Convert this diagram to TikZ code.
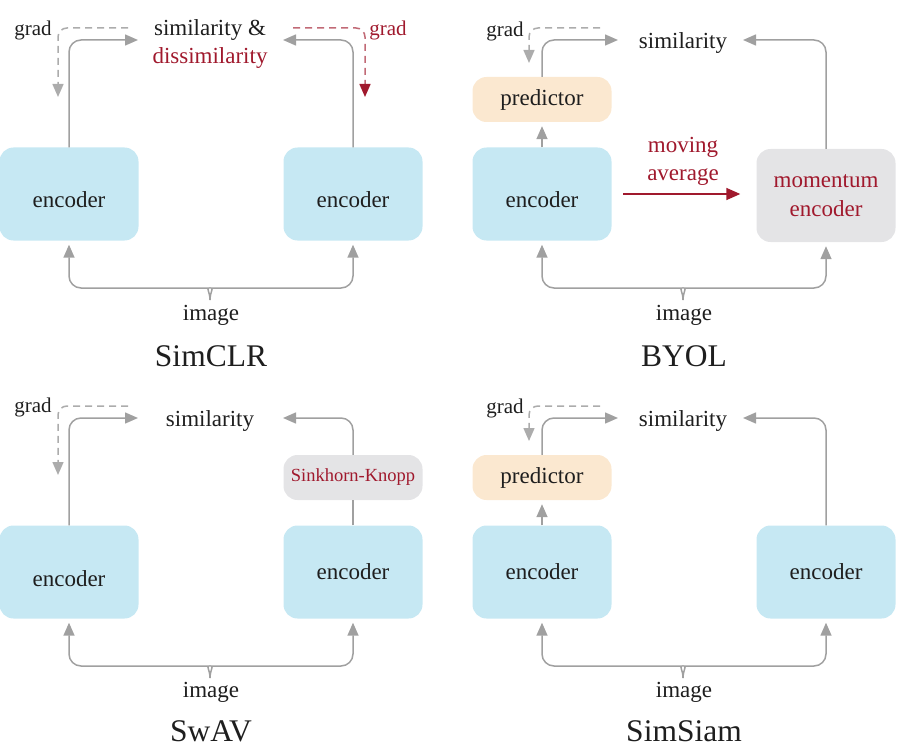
\documentclass[tikz,border=0pt]{standalone}
\usepackage{fontspec}
\setmainfont{Liberation Serif}
\usetikzlibrary{arrows.meta}

\definecolor{encblue}{RGB}{198,232,243}
\definecolor{predorange}{RGB}{251,232,208}
\definecolor{boxgray}{RGB}{228,228,230}
\definecolor{linegray}{RGB}{160,160,160}
\definecolor{dashgray}{RGB}{172,172,172}
\definecolor{redtxt}{RGB}{160,25,45}
\definecolor{ink}{RGB}{30,30,30}

\newcommand\lblfont{\fontsize{23}{28}\selectfont}
\newcommand\gradfont{\fontsize{21}{25}\selectfont}
\newcommand\skfont{\fontsize{18.5}{22}\selectfont}
\newcommand\titlefont{\fontsize{31.5}{36}\selectfont}

\tikzset{
  box/.style={rounded corners=14pt, minimum width=139pt, minimum height=93pt,
    inner sep=0pt, font=\lblfont, text=ink, align=center},
  encbox/.style={box, fill=encblue},
  lowtext/.style={text height=#1, text depth=0pt},
  mombox/.style={box, fill=boxgray, text=redtxt, font=\fontsize{23}{29.5}\selectfont},
  predbox/.style={box, fill=predorange, minimum height=45pt},
  skbox/.style={box, fill=boxgray, minimum height=45pt, font=\skfont, text=redtxt},
  lbl/.style={font=\lblfont, text=ink, inner sep=0pt, align=center},
  gradlbl/.style={font=\gradfont, text=ink, inner sep=0pt},
  titlelbl/.style={font=\titlefont, text=ink, inner sep=0pt},
  tip/.style={-{Triangle[length=13pt,width=11pt]}},
  flow/.style={tip, draw=linegray, line width=1.5pt, rounded corners=12pt},
  plain/.style={draw=linegray, line width=1.5pt},
  gradflow/.style={tip, draw=dashgray, line width=1.5pt, dash pattern=on 7pt off 5pt,
    rounded corners=9pt},
  gradred/.style={gradflow, draw=redtxt!65, -{Triangle[length=13pt,width=11pt,color=redtxt]}},
  redflow/.style={-{Triangle[length=14pt,width=12pt]}, draw=redtxt, line width=1.5pt},
}

\begin{document}
\begin{tikzpicture}[x=1pt,y=-1pt]
\useasboundingbox (0,0) rectangle (905,749);

% ---------------- SimCLR ----------------
\begin{scope}
  \node[encbox, lowtext=26pt] (ae1) at (69,194) {encoder};
  \node[encbox, lowtext=26pt] (ae2) at (353,194) {encoder};
  \node[lbl] (asim) at (210,44) {similarity \&\\\textcolor{redtxt}{dissimilarity}};
  \coordinate (at1) at (138,40);
  \coordinate (at2) at (283,40);
  \draw[flow] (ae1.north) |- (at1);
  \draw[flow] (ae2.north) |- (at2);
  % gradient paths
  \node[gradlbl] (ag1) at (33,30) {grad};
  \coordinate (ag1a) at (128,28);
  \coordinate (ag1b) at (58,97);
  \draw[gradflow] (ag1a) -| (ag1b);
  \node[gradlbl, text=redtxt] (ag2) at (388,30) {grad};
  \coordinate (ag2a) at (293,28);
  \coordinate (ag2b) at (365,97);
  \draw[gradred] (ag2a) -| (ag2b);
  % shared input
  \node[lbl] (aimg) at (211,315) {image};
  \coordinate (ab) at (210,300);
  \draw[flow, shorten >=4pt] (ab) .. controls (210,292) and (206,288) .. (197,288) -| (ae1.south);
  \draw[flow, shorten >=4pt] (ab) .. controls (210,292) and (214,288) .. (223,288) -| (ae2.south);
  \node[titlelbl] (atitle) at (211,356) {SimCLR};
\end{scope}

% ---------------- BYOL ----------------
\begin{scope}[shift={(473,0)}]
  \node[encbox, lowtext=26pt] (be1) at (69,194) {encoder};
  \node[mombox] (be2) at (353,195.5) {momentum\\encoder};
  \node[predbox] (bp) at (69,99.5) {\raisebox{-2pt}{predictor}};
  \node[lbl] (bsim) at (210,43) {similarity};
  \coordinate (bt1) at (145,40);
  \coordinate (bt2) at (270,40);
  \draw[flow, shorten >=4pt] (be1.north) -- (bp.south);
  \draw[flow] (bp.north) |- (bt1);
  \draw[flow] (be2.north) |- (bt2);
  \node[gradlbl] (bg) at (32,31) {grad};
  \coordinate (bga) at (127,28);
  \coordinate (bgb) at (56,63);
  \draw[gradflow] (bga) -| (bgb);
  \node[lbl, text=redtxt] (bma) at (210,161) {moving\\average};
  \draw[redflow, shorten <=11.5pt, shorten >=16pt] (be1.east) -- (be1.east -| be2.west);
  \node[lbl] (bimg) at (211,315) {image};
  \coordinate (bb) at (210,300);
  \draw[flow, shorten >=4pt] (bb) .. controls (210,292) and (206,288) .. (197,288) -| (be1.south);
  \draw[flow, shorten >=4pt] (bb) .. controls (210,292) and (214,288) .. (223,288) -| (be2.south);
  \node[titlelbl] (btitle) at (211,356) {BYOL};
\end{scope}

% ---------------- SwAV ----------------
\begin{scope}[shift={(0,378)}]
  \node[encbox, lowtext=28pt] (ce1) at (69,194) {encoder};
  \node[encbox] (ce2) at (353,194) {encoder};
  \node[skbox] (csk) at (353,99.5) {\raisebox{-2pt}{Sinkhorn-Knopp}};
  \node[lbl] (csim) at (210,43) {similarity};
  \coordinate (ct1) at (138,40);
  \coordinate (ct2) at (283,40);
  \draw[flow] (ce1.north) |- (ct1);
  \draw[plain] (ce2.north) -- (csk.south);
  \draw[flow] (csk.north) |- (ct2);
  \node[gradlbl] (cg) at (33,29) {grad};
  \coordinate (cga) at (128,28);
  \coordinate (cgb) at (58,97);
  \draw[gradflow] (cga) -| (cgb);
  \node[lbl] (cimg) at (211,314) {image};
  \coordinate (cb) at (210,300);
  \draw[flow, shorten >=4pt] (cb) .. controls (210,292) and (206,288) .. (197,288) -| (ce1.south);
  \draw[flow, shorten >=4pt] (cb) .. controls (210,292) and (214,288) .. (223,288) -| (ce2.south);
  \node[titlelbl] (ctitle) at (211,353) {SwAV};
\end{scope}

% ---------------- SimSiam ----------------
\begin{scope}[shift={(473,378)}]
  \node[encbox] (de1) at (69,194) {encoder};
  \node[encbox] (de2) at (353,194) {encoder};
  \node[predbox] (dp) at (69,99.5) {\raisebox{-2pt}{predictor}};
  \node[lbl] (dsim) at (210,43) {similarity};
  \coordinate (dt1) at (145,40);
  \coordinate (dt2) at (270,40);
  \draw[flow, shorten >=4pt] (de1.north) -- (dp.south);
  \draw[flow] (dp.north) |- (dt1);
  \draw[flow] (de2.north) |- (dt2);
  \node[gradlbl] (dg) at (32,30) {grad};
  \coordinate (dga) at (127,28);
  \coordinate (dgb) at (56,63);
  \draw[gradflow] (dga) -| (dgb);
  \node[lbl] (dimg) at (211,314) {image};
  \coordinate (db) at (210,300);
  \draw[flow, shorten >=4pt] (db) .. controls (210,292) and (206,288) .. (197,288) -| (de1.south);
  \draw[flow, shorten >=4pt] (db) .. controls (210,292) and (214,288) .. (223,288) -| (de2.south);
  \node[titlelbl] (dtitle) at (211,353) {SimSiam};
\end{scope}
\end{tikzpicture}
\end{document}
